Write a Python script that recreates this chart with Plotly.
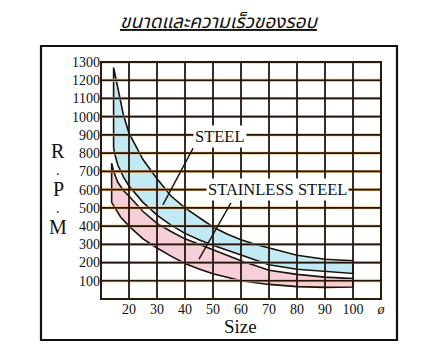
import plotly.graph_objects as go

# ---------------- data ----------------
title_text = "ขนาดและความเร็วของรอบ"

x_ticks = [20, 30, 40, 50, 60, 70, 80, 90, 100, 110]
x_ticktext = ["20", "30", "40", "50", "60", "70", "80", "90", "100", "<i>ø</i>"]
y_ticks = [100, 200, 300, 400, 500, 600, 700, 800, 900, 1000, 1100, 1200, 1300]
y_ticktext = ["100", "200", "300", "400", "500", "600", "700", "800", "900",
              "1000", "1100", "1200", "1300"]

steel_upper_x = [14.5, 16, 18, 20, 25, 30, 35, 40, 45, 50, 55, 60, 65, 70, 80, 90, 100]
steel_upper_y = [1270, 1150, 1010, 910, 765, 660, 565, 500, 445, 395, 357, 325, 300, 280, 240, 218, 210]

steel_lower_x = [14.5, 15, 16, 18, 20, 25, 30, 35, 40, 45, 50, 60, 70, 80, 90, 100]
steel_lower_y = [830, 790, 735, 670, 620, 530, 460, 405, 360, 325, 295, 240, 188, 163, 150, 140]

stainless_upper_x = [13.8, 14.5, 16, 18, 20, 25, 30, 35, 40, 45, 50, 60, 70, 80, 90, 100]
stainless_upper_y = [745, 700, 640, 595, 565, 480, 415, 370, 330, 300, 270, 210, 158, 135, 120, 112]

stainless_lower_x = [13.8, 15, 17, 20, 25, 30, 35, 40, 45, 50, 60, 70, 80, 90, 100]
stainless_lower_y = [530, 500, 450, 400, 330, 280, 235, 195, 165, 138, 100, 80, 68, 64, 66]

steel_label = "STEEL"
stainless_label = "STAINLESS STEEL"
steel_label_pos = (52.5, 890)
stainless_label_pos = (73.2, 598)
steel_pointer = [(42.9, 828), (32.1, 516)]
stainless_pointer = [(56.4, 527), (45.0, 219)]

y_title_letters = ["R", ".", "P", ".", "M"]
x_title = "Size"

# ---------------- figure ----------------
W, H = 437, 357
L, R, T, B = 101, 56, 62, 58
PW, PH = W - L - R, H - T - B


def px_x(px):
    return (px - L) / PW


def px_y(py):
    return (H - B - py) / PH


SERIF = "Liberation Serif, Times New Roman, serif"
INK = "#1a120a"

fig = go.Figure()


def band(ux, uy, lx, ly, color):
    xs = list(ux) + list(lx[::-1]) + [ux[0]]
    ys = list(uy) + list(ly[::-1]) + [uy[0]]
    fig.add_trace(go.Scatter(x=xs, y=ys, mode="lines", fill="toself",
                             fillcolor=color, line=dict(color=INK, width=1.6),
                             hoverinfo="skip", showlegend=False))


band(steel_upper_x, steel_upper_y, steel_lower_x, steel_lower_y, "#c2eaf4")
band(stainless_upper_x, stainless_upper_y, stainless_lower_x, stainless_lower_y, "#f6cfd9")

shapes = []
# horizontal grid lines (orange halo + dark core)
for yv in y_ticks:
    shapes.append(dict(type="line", xref="paper", yref="y", x0=0, x1=1, y0=yv, y1=yv,
                       line=dict(color="#f0b468", width=2.8), layer="above"))
    shapes.append(dict(type="line", xref="paper", yref="y", x0=0, x1=1, y0=yv, y1=yv,
                       line=dict(color="#22140a", width=1.7), layer="above"))
# vertical grid lines
for xv in x_ticks:
    shapes.append(dict(type="line", xref="x", yref="paper", x0=xv, x1=xv, y0=0, y1=1,
                       line=dict(color="#24160c", width=1.8), layer="above"))
# plot frame
shapes.append(dict(type="rect", xref="paper", yref="paper", x0=0, x1=1, y0=0, y1=1,
                   line=dict(color="#2a1a0c", width=2), layer="above"))
# pointer lines
for p in (steel_pointer, stainless_pointer):
    shapes.append(dict(type="line", xref="x", yref="y", x0=p[0][0], y0=p[0][1],
                       x1=p[1][0], y1=p[1][1], line=dict(color=INK, width=1.4),
                       layer="above"))
# outer box
shapes.append(dict(type="rect", xref="paper", yref="paper",
                   x0=px_x(41), x1=px_x(397), y0=px_y(340), y1=px_y(46),
                   line=dict(color="#111111", width=2.2), layer="below"))

annotations = [
    dict(text=f"<i><u>{title_text}</u></i>", x=px_x(219), y=px_y(22), xref="paper", yref="paper",
         showarrow=False, xanchor="center", yanchor="middle",
         font=dict(family="Noto Sans Thai, Noto Serif Thai, Loma, Garuda, Noto Sans, sans-serif",
                   size=19, color="#111111")),
    dict(text=steel_label, x=steel_label_pos[0], y=steel_label_pos[1], xref="x", yref="y",
         showarrow=False, bgcolor="white", borderpad=1,
         font=dict(family=SERIF, size=16.5, color="#111111")),
    dict(text=stainless_label, x=stainless_label_pos[0], y=stainless_label_pos[1], xref="x", yref="y",
         showarrow=False, bgcolor="white", borderpad=1,
         font=dict(family=SERIF, size=16.5, color="#111111")),
    dict(text=x_title, x=px_x(240), y=px_y(326), xref="paper", yref="paper",
         showarrow=False, xanchor="center", yanchor="middle",
         font=dict(family=SERIF, size=19, color="#111111")),
]
y_title_px = [151, 170, 189, 208, 227]
y_title_size = [20, 14, 20, 14, 20]
for ch, py, fs in zip(y_title_letters, y_title_px, y_title_size):
    annotations.append(dict(text=ch, x=px_x(58), y=px_y(py), xref="paper", yref="paper",
                            showarrow=False, xanchor="center", yanchor="middle",
                            font=dict(family=SERIF, size=fs, color="#111111")))

fig.update_layout(
    width=W, height=H, margin=dict(l=L, r=R, t=T, b=B, pad=0),
    paper_bgcolor="white", plot_bgcolor="white",
    shapes=shapes, annotations=annotations, showlegend=False,
    xaxis=dict(range=[10, 110], tickvals=x_ticks, ticktext=x_ticktext, showgrid=False,
               zeroline=False, showline=False, ticks="", fixedrange=True,
               tickfont=dict(family=SERIF, size=14, color="#111111")),
    yaxis=dict(range=[0, 1300], tickvals=y_ticks, ticktext=y_ticktext, showgrid=False,
               zeroline=False, showline=False, ticks="", fixedrange=True,
               tickfont=dict(family=SERIF, size=14, color="#111111")),
)

fig.write_html("out.html", config={"displayModeBar": False},
               post_script="document.body.style.margin='0';document.body.style.padding='0';")
